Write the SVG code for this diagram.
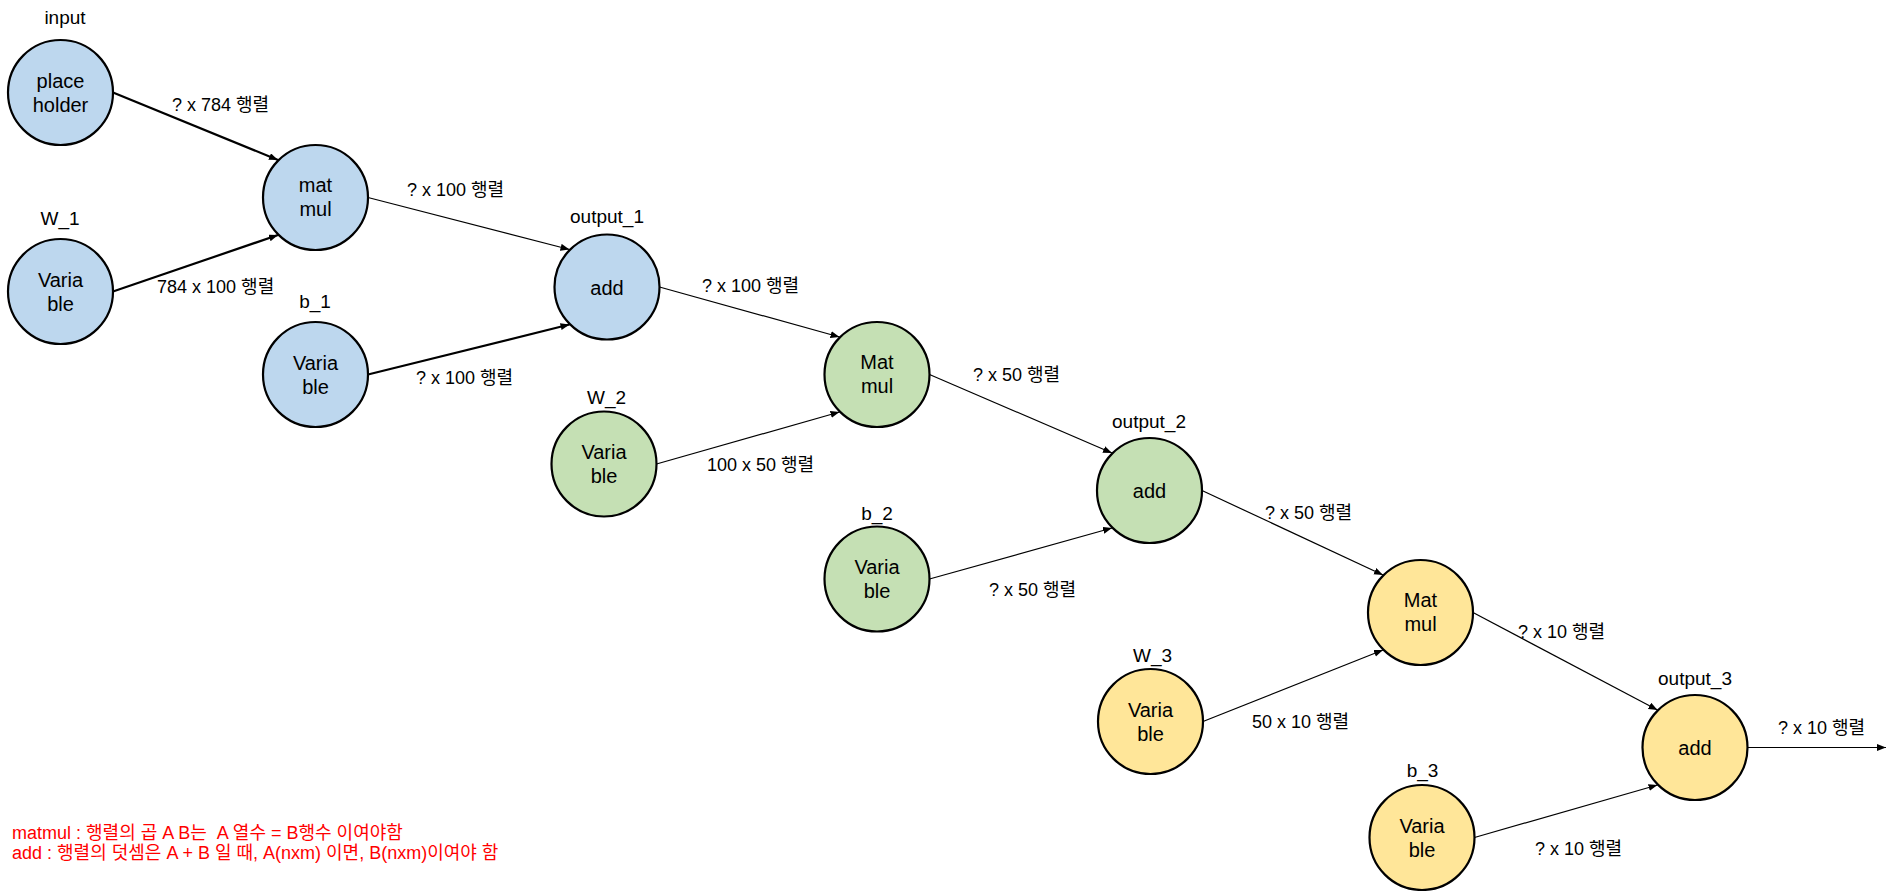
<svg xmlns="http://www.w3.org/2000/svg" width="1892" height="891" viewBox="0 0 1892 891">
<defs>
<style>
text{font-family:"Liberation Sans","Noto Sans CJK KR",sans-serif;fill:#000}
.n{stroke:#000;stroke-width:2.2}
.b{fill:#BDD7EE}.g{fill:#C5E0B4}.y{fill:#FFE699}
.nt{font-size:20px;text-anchor:middle}
.lb{font-size:19px;text-anchor:middle}
.el{font-size:18px}
.e{stroke:#000;stroke-width:1.2;fill:none;marker-end:url(#ah)}
.t{stroke-width:2.2}
.note{font-size:18px;fill:#FF0000}
</style>
<marker id="ah" markerUnits="userSpaceOnUse" markerWidth="10" markerHeight="8" refX="9" refY="3.5" orient="auto">
<path d="M0,0 L9,3.5 L0,7 z" fill="#000"/>
</marker>
</defs>
<rect width="1892" height="891" fill="#fff"/>

<g id="connectors">
<line class="e t" x1="113" y1="92.5" x2="278" y2="160"/>
<line class="e t" x1="113" y1="291.5" x2="278" y2="235"/>
<line class="e" x1="368" y1="197.5" x2="569.5" y2="249.5"/>
<line class="e t" x1="368" y1="374.5" x2="569.5" y2="324.5"/>
<line class="e" x1="659.5" y1="287" x2="839.5" y2="337"/>
<line class="e" x1="656.5" y1="464" x2="839.5" y2="412"/>
<line class="e" x1="929.5" y1="374.5" x2="1112" y2="453"/>
<line class="e" x1="929.5" y1="579" x2="1112" y2="528"/>
<line class="e" x1="1202" y1="490.5" x2="1383" y2="575"/>
<line class="e" x1="1203" y1="721.5" x2="1383" y2="650"/>
<line class="e" x1="1473" y1="612.5" x2="1657.5" y2="710"/>
<line class="e" x1="1474.5" y1="837.5" x2="1657.5" y2="785"/>
<line class="e" x1="1747.5" y1="747.5" x2="1886" y2="747.5"/>
</g>

<g id="edge-labels">
<text class="el" x="172" y="111">? x 784 행렬</text>
<text class="el" x="157" y="293">784 x 100 행렬</text>
<text class="el" x="407" y="196">? x 100 행렬</text>
<text class="el" x="416" y="384">? x 100 행렬</text>
<text class="el" x="702" y="292">? x 100 행렬</text>
<text class="el" x="707" y="471">100 x 50 행렬</text>
<text class="el" x="973" y="381">? x 50 행렬</text>
<text class="el" x="989" y="596">? x 50 행렬</text>
<text class="el" x="1265" y="519">? x 50 행렬</text>
<text class="el" x="1252" y="728">50 x 10 행렬</text>
<text class="el" x="1518" y="638">? x 10 행렬</text>
<text class="el" x="1535" y="855">? x 10 행렬</text>
<text class="el" x="1778" y="734">? x 10 행렬</text>
</g>

<g id="placeholder">
<text class="lb" x="65" y="24">input</text>
<circle class="n b" cx="60.5" cy="92.5" r="52.5"/>
<text class="nt" x="60.5" y="88">place</text>
<text class="nt" x="60.5" y="112">holder</text>
</g>
<g id="W_1">
<text class="lb" x="60" y="225">W_1</text>
<circle class="n b" cx="60.5" cy="291.5" r="52.5"/>
<text class="nt" x="60.5" y="287">Varia</text>
<text class="nt" x="60.5" y="311">ble</text>
</g>
<g id="matmul_1">
<circle class="n b" cx="315.5" cy="197.5" r="52.5"/>
<text class="nt" x="315.5" y="192">mat</text>
<text class="nt" x="315.5" y="216">mul</text>
</g>
<g id="b_1">
<text class="lb" x="315" y="308">b_1</text>
<circle class="n b" cx="315.5" cy="374.5" r="52.5"/>
<text class="nt" x="315.5" y="370">Varia</text>
<text class="nt" x="315.5" y="394">ble</text>
</g>
<g id="output_1">
<text class="lb" x="607" y="223">output_1</text>
<circle class="n b" cx="607" cy="287" r="52.5"/>
<text class="nt" x="607" y="295">add</text>
</g>

<g id="matmul_2">
<circle class="n g" cx="877" cy="374.5" r="52.5"/>
<text class="nt" x="877" y="369">Mat</text>
<text class="nt" x="877" y="393">mul</text>
</g>
<g id="W_2">
<text class="lb" x="606.5" y="404">W_2</text>
<circle class="n g" cx="604" cy="464" r="52.5"/>
<text class="nt" x="604" y="459">Varia</text>
<text class="nt" x="604" y="483">ble</text>
</g>
<g id="b_2">
<text class="lb" x="877" y="520">b_2</text>
<circle class="n g" cx="877" cy="579" r="52.5"/>
<text class="nt" x="877" y="574">Varia</text>
<text class="nt" x="877" y="598">ble</text>
</g>
<g id="output_2">
<text class="lb" x="1149" y="428">output_2</text>
<circle class="n g" cx="1149.5" cy="490.5" r="52.5"/>
<text class="nt" x="1149.5" y="498">add</text>
</g>

<g id="matmul_3">
<circle class="n y" cx="1420.5" cy="612.5" r="52.5"/>
<text class="nt" x="1420.5" y="607">Mat</text>
<text class="nt" x="1420.5" y="631">mul</text>
</g>
<g id="W_3">
<text class="lb" x="1152.5" y="662">W_3</text>
<circle class="n y" cx="1150.5" cy="721.5" r="52.5"/>
<text class="nt" x="1150.5" y="717">Varia</text>
<text class="nt" x="1150.5" y="741">ble</text>
</g>
<g id="b_3">
<text class="lb" x="1422.5" y="777">b_3</text>
<circle class="n y" cx="1422" cy="837.5" r="52.5"/>
<text class="nt" x="1422" y="833">Varia</text>
<text class="nt" x="1422" y="857">ble</text>
</g>
<g id="output_3">
<text class="lb" x="1695" y="684.5">output_3</text>
<circle class="n y" cx="1695" cy="747.5" r="52.5"/>
<text class="nt" x="1695" y="755">add</text>
</g>

<g id="note">
<text class="note" x="12" y="839">matmul : 행렬의 곱 A B는 &#160;A 열수 = B행수 이여야함</text>
<text class="note" x="12" y="859">add : 행렬의 덧셈은 A + B 일 때, A(nxm) 이면, B(nxm)이여야 함</text>
</g>
</svg>
